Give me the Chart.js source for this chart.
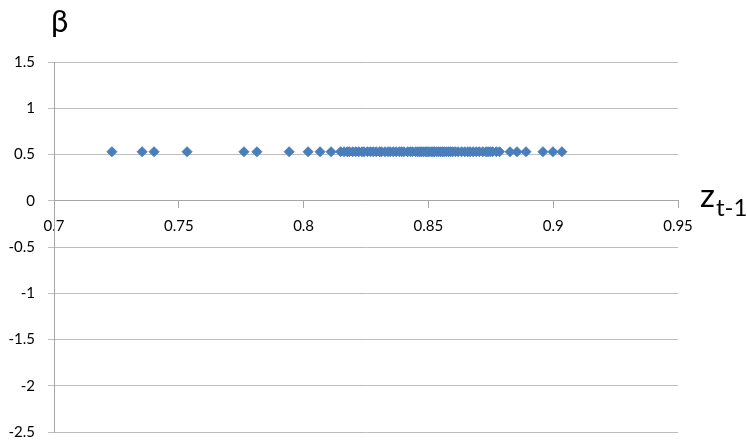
<!DOCTYPE html>
<html>
<head>
<meta charset="utf-8">
<script src="https://cdn.jsdelivr.net/npm/chart.js@4.4.1/dist/chart.umd.min.js"></script>
<style>
  html, body { margin: 0; padding: 0; background: #fff; }
  #wrap { position: relative; width: 747px; height: 441px; font-family: Lato, "Open Sans", sans-serif; }
  #chart { position: absolute; left: 0; top: 0; }
  .ttl { position: absolute; color: #000; line-height: 1; white-space: nowrap; }
  #beta { left: 51px; top: 5px; font-size: 31px; }
  #zt { left: 700px; top: 178px; font-size: 33px; }
  #zt sub { font-size: 24px; position: relative; top: 9px; vertical-align: baseline; margin-left: 1px; }
</style>
</head>
<body>
<div id="wrap">
  <canvas id="chart" width="747" height="441"></canvas>
  <div class="ttl" id="beta">β</div>
  <div class="ttl" id="zt">z<sub>t-1</sub></div>
</div>
<script>
// -------------------- DATA --------------------

// z(t-1) values of the points
const zValues = [
  0.7232, 0.7353, 0.7401, 0.7533, 0.7761, 0.7813, 0.7942, 0.8018, 0.8066, 0.8110,
  0.8148, 0.8162, 0.8175, 0.8183, 0.8197, 0.8209, 0.8221, 0.8234, 0.8242, 0.8256,
  0.8268, 0.8279, 0.8291, 0.8305, 0.8312, 0.8326, 0.8338, 0.8347, 0.8359, 0.8371,
  0.8384, 0.8393, 0.8402, 0.8417, 0.8428, 0.8436, 0.8449, 0.8458, 0.8466, 0.8473,
  0.8481, 0.8489, 0.8495, 0.8502, 0.8511, 0.8518, 0.8524, 0.8533, 0.8541, 0.8549,
  0.8556, 0.8563, 0.8572, 0.8581, 0.8589, 0.8597, 0.8608, 0.8619, 0.8633, 0.8646,
  0.8658, 0.8667, 0.8679, 0.8692, 0.8704, 0.8718, 0.8731, 0.8739, 0.8748, 0.8757,
  0.8772, 0.8785, 0.8827, 0.8855, 0.8891, 0.8959, 0.8999, 0.9035
];

// beta is the same for every point
const betaValues = [
  0.53, 0.53, 0.53, 0.53, 0.53, 0.53, 0.53, 0.53, 0.53, 0.53,
  0.53, 0.53, 0.53, 0.53, 0.53, 0.53, 0.53, 0.53, 0.53, 0.53,
  0.53, 0.53, 0.53, 0.53, 0.53, 0.53, 0.53, 0.53, 0.53, 0.53,
  0.53, 0.53, 0.53, 0.53, 0.53, 0.53, 0.53, 0.53, 0.53, 0.53,
  0.53, 0.53, 0.53, 0.53, 0.53, 0.53, 0.53, 0.53, 0.53, 0.53,
  0.53, 0.53, 0.53, 0.53, 0.53, 0.53, 0.53, 0.53, 0.53, 0.53,
  0.53, 0.53, 0.53, 0.53, 0.53, 0.53, 0.53, 0.53, 0.53, 0.53,
  0.53, 0.53, 0.53, 0.53, 0.53, 0.53, 0.53, 0.53
];

// axis ticks
const xTicks = [0.7, 0.75, 0.8, 0.85, 0.9, 0.95];
const yTicks = [-2.5, -2, -1.5, -1, -0.5, 0, 0.5, 1, 1.5];

// -------------------- CHART --------------------

const points = zValues.map((z, i) => ({ x: z, y: betaValues[i] }));
const fmt = (v) => String(+Number(v).toFixed(2));

const ctx = document.getElementById("chart");

new Chart(ctx, {
  type: "scatter",
  data: {
    datasets: [
      {
        data: points,
        pointStyle: "rectRot",
        pointRadius: 5,
        pointHoverRadius: 5,
        backgroundColor: "#4a7ebb",
        borderColor: "#4a7ebb",
        borderWidth: 1,
      },
    ],
  },
  options: {
    responsive: false,
    animation: false,
    devicePixelRatio: 1,
    layout: { padding: { left: 0, top: 62, right: 69, bottom: 9 } },
    plugins: { legend: { display: false }, tooltip: { enabled: false } },
    scales: {
      x: {
        type: "linear",
        position: { y: 0 },
        min: 0.7,
        max: 0.95,
        afterBuildTicks: (scale) => {
          scale.ticks = xTicks.map((v) => ({ value: v }));
        },
        afterFit: (scale) => {
          scale.height = 0; // axis sits at y = 0, takes no layout space
          scale.paddingLeft = 0;
          scale.paddingRight = 0;
        },
        ticks: {
          callback: fmt,
          color: "#000",
          padding: 9,
          maxRotation: 0,
          autoSkip: false,
          font: { family: "Lato", size: 15 },
        },
        grid: {
          drawOnChartArea: false,
          drawTicks: true,
          tickLength: 7,
          color: "#a6a6a6",
        },
        border: { color: "#a6a6a6", width: 1 },
      },
      y: {
        type: "linear",
        min: -2.5,
        max: 1.5,
        afterBuildTicks: (scale) => {
          scale.ticks = yTicks.map((v) => ({ value: v }));
        },
        afterFit: (scale) => {
          scale.width = 54;
          scale.paddingTop = 0;
          scale.paddingBottom = 0;
        },
        ticks: {
          callback: fmt,
          color: "#000",
          padding: 13,
          font: { family: "Lato", size: 15 },
        },
        grid: {
          color: "#bdbdbd",
          tickLength: 6,
        },
        border: { color: "#a6a6a6", width: 1 },
      },
    },
  },
});
</script>
</body>
</html>
